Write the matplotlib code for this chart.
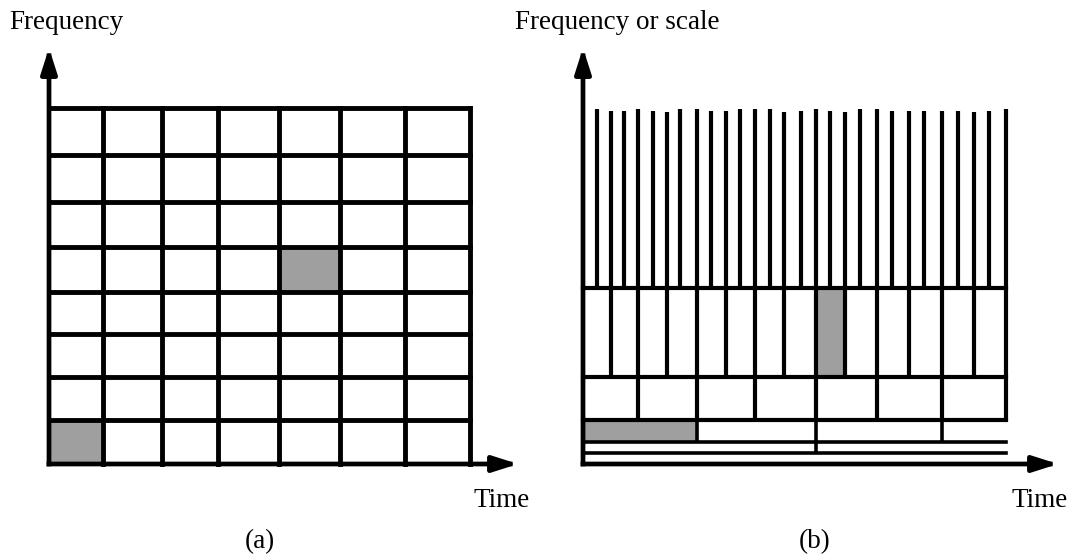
import matplotlib.pyplot as plt
from matplotlib.patches import Rectangle

# (a) STFT tiling: fixed time/frequency cells (units = px from the axis origin)
a_time_edges = [0, 54, 113, 169, 230, 291, 356, 421]
a_freq_edges = [0, 44, 87, 130, 172, 217, 262, 309, 356]
a_shaded = [(0, 0), (4, 4)]          # (time cell, freq cell)

# (b) wavelet tiling: dyadic bands
b_line_pos = [13.7, 27.7, 41, 54.7, 69.7, 83.7, 97.3, 114, 128, 142.7,
              157, 172, 187, 200.7, 217.7, 233, 247, 262, 277, 293.7,
              309.3, 326, 341.3, 358.7, 375.3, 391, 406.3, 423]
b_line_top = [355, 353, 353, 355, 353, 352, 355, 355, 353, 353,
              355, 355, 355, 352, 353, 355, 353, 352, 355, 355,
              353, 353, 353, 353, 353, 352, 353, 355]
b_band_edges = [0, 11, 22, 44, 87, 176]   # bottom of each band, lowest first
b_shaded = [(2, 0), (4, 8)]               # (band, cell)

gray = "#9f9f9f"
serif = "Liberation Serif"
fs = 19.5

fig = plt.figure(figsize=(10.73, 5.58), dpi=100)
ax_a = fig.add_axes([0, 0, 0.5, 1])
ax_b = fig.add_axes([0.5, 0, 0.5, 1])
ax_a.set_xlim(-49, 536.5 - 49)
ax_b.set_xlim(-46.5, 1073 - 583)
for ax in (ax_a, ax_b):
    ax.set_ylim(-94, 464)
    ax.axis("off")


def axes_arrows(ax, x_tip, y_tip):
    for tip in [(x_tip, 0), (0, y_tip)]:
        ax.annotate("", xy=tip, xytext=(0, 0),
                    arrowprops=dict(arrowstyle="-|>,head_length=15,head_width=4.8",
                                    mutation_scale=1, lw=3.4, color="black",
                                    shrinkA=0, shrinkB=0, capstyle="projecting"))


# ---- panel (a)
for ti, fi in a_shaded:
    ax_a.add_patch(Rectangle((a_time_edges[ti], a_freq_edges[fi]),
                             a_time_edges[ti + 1] - a_time_edges[ti],
                             a_freq_edges[fi + 1] - a_freq_edges[fi],
                             facecolor=gray, edgecolor="none", zorder=1))
ax_a.hlines(a_freq_edges[1:], a_time_edges[0], a_time_edges[-1],
            color="black", lw=3.5, zorder=2, capstyle="projecting")
ax_a.vlines(a_time_edges[1:], a_freq_edges[0], a_freq_edges[-1],
            color="black", lw=3.5, zorder=2, capstyle="projecting")
axes_arrows(ax_a, 469, 416)
ax_a.text(-40, 435, "Frequency", family=serif, fontsize=fs, va="baseline")
ax_a.text(424, -43, "Time", family=serif, fontsize=fs, va="baseline")
ax_a.text(211, -78, "(a)", family=serif, fontsize=fs, ha="center", va="center")

# ---- panel (b)
n_bands = len(b_band_edges)
right = b_line_pos[-1]
for band in range(n_bands):
    step = 2 ** (n_bands - 1 - band)
    idx = list(range(step, len(b_line_pos) + 1, step))
    xs = [b_line_pos[i - 1] for i in idx]
    y0 = b_band_edges[band]
    if band == n_bands - 1:
        tops = [b_line_top[i - 1] for i in idx]
        lw = 3.0
    else:
        tops = [b_band_edges[band + 1]] * len(xs)
        lw = 3.0 if band >= 3 else 2.6
    if xs:
        ax_b.vlines(xs, y0, tops, color="black", lw=lw, zorder=2, capstyle="butt")
    # shaded cells
    edges = [0] + xs
    if edges[-1] < right:
        edges.append(right)
    for sb, sc in b_shaded:
        if sb == band:
            y1 = b_band_edges[band + 1]
            ax_b.add_patch(Rectangle((edges[sc], y0), edges[sc + 1] - edges[sc],
                                     y1 - y0, facecolor=gray, edgecolor="none",
                                     zorder=1))
ax_b.hlines(b_band_edges[1:], 0, right, color="black",
            lw=[2.6, 2.6, 3.0, 3.0, 3.0], zorder=2, capstyle="projecting")
axes_arrows(ax_b, 475, 416)
ax_b.text(-68, 435, "Frequency or scale", family=serif, fontsize=fs, va="baseline")
ax_b.text(429, -43, "Time", family=serif, fontsize=fs, va="baseline")
ax_b.text(232, -78, "(b)", family=serif, fontsize=fs, ha="center", va="center")

fig.savefig("out.png", dpi=100, facecolor="white")
